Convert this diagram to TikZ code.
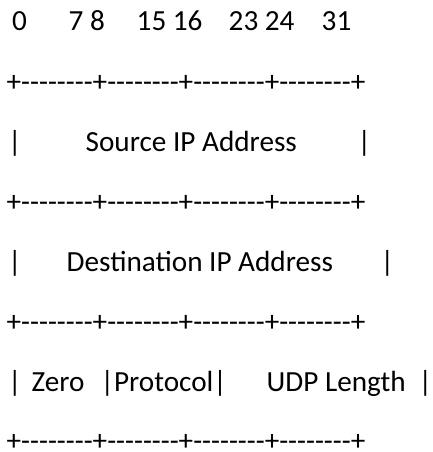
\documentclass[tikz,border=0pt]{standalone}
\usepackage{fontspec}
\setmainfont{Carlito}[Ligatures=TeXOff]
\usepackage{tikz}
\usetikzlibrary{positioning}

\begin{document}
\begin{tikzpicture}[
  x=1pt, y=-1pt,
  txt/.style={
    anchor=base west,
    inner sep=0pt,
    font=\fontsize{29.2}{35}\selectfont
    },
  rule/.style={txt}
]
\useasboundingbox (0,0) rectangle (432,452);

% Bit numbers
\node[txt] (b0) at (12,31) {0};
\node[txt] (b7) at (68.5,31) {7 8};
\node[txt] (b15) at (136.5,31) {15 16};
\node[txt] (b23) at (228.5,31) {23 24};
\node[txt] (b31) at (321.5,31) {31};

% Border lines
\foreach \i/\y in {1/91, 2/211, 3/331, 4/450}
  \node[rule] (line\i) at (6.5,\y) {+--------+--------+--------+--------+};

% Source row
\node[txt] (srcl) at (8,151) {|};
\node[txt] (src) at (85.5,151) {Source IP Address};
\node[txt] (srcr) at (357.5,151) {|};

% Destination row
\node[txt] (dstl) at (8,271) {|};
\node[txt] (dst) at (66.5,271) {Destination IP Address};
\node[txt] (dstr) at (380.5,271) {|};

% Zero / protocol / length row
\node[txt] (zl) at (8,391) {|};
\node[txt] (zero) at (31.5,391) {Zero};
\node[txt] (proto) at (100.5,391) {|Protocol|};
\node[txt] (len) at (266.5,391) {UDP Length};
\node[txt] (zr) at (418.5,391) {|};

\end{tikzpicture}
\end{document}
